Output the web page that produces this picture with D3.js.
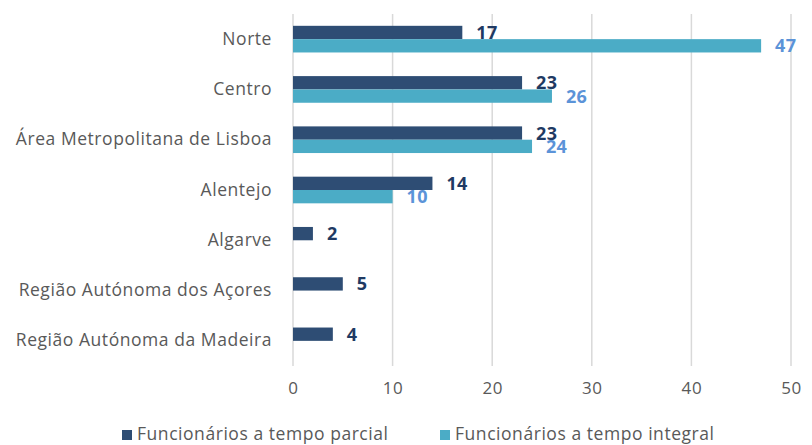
<!DOCTYPE html>
<html>
<head>
<meta charset="utf-8">
<script src="https://cdn.jsdelivr.net/npm/d3@7"></script>
<style>
  body { margin: 0; background: #fff; }
  text { font-family: "Open Sans", sans-serif; }
</style>
</head>
<body>
<div id="graph_container"></div>
<script>
var regions = ["Norte", "Centro", "Área Metropolitana de Lisboa", "Alentejo", "Algarve",
               "Região Autónoma dos Açores", "Região Autónoma da Madeira"];
var parcial = [17, 23, 23, 14, 2, 5, 4];
var integral = [47, 26, 24, 10, null, null, null];
var seriesNames = ["Funcionários a tempo parcial", "Funcionários a tempo integral"];
var xTicks = [0, 10, 20, 30, 40, 50];

var colors = ["#2E4D74", "#4BACC6"];
var labelColors = ["#1F3A63", "#5B93D8"];

var W = 812, H = 445;
var margin = {top: 14, right: 21, bottom: 79, left: 293},
    w = W - margin.left - margin.right,
    h = H - margin.top - margin.bottom;

var svg = d3.select("#graph_container").append("svg")
    .attr("width", W)
    .attr("height", H);

var g = svg.append("g")
    .attr("transform", "translate(" + margin.left + "," + margin.top + ")");

var xScale = d3.scaleLinear().domain([0, 50]).range([0, w]);
var yScale = d3.scaleBand().domain(regions).range([0, h]).paddingInner(0.47).paddingOuter(0.235);
var sub = d3.scaleBand().domain([0, 1]).range([0, yScale.bandwidth()]);

// gridlines
g.selectAll("line.grid")
    .data(xTicks)
    .enter().append("line")
    .attr("class", "grid")
    .attr("x1", function(d) { return xScale(d); })
    .attr("x2", function(d) { return xScale(d); })
    .attr("y1", 0)
    .attr("y2", h)
    .attr("stroke", "#D9D9D9")
    .attr("stroke-width", 1.5);

// x axis tick labels
var xAxis = g.append("g")
    .attr("transform", "translate(0," + h + ")")
    .call(d3.axisBottom(xScale).tickValues(xTicks).tickSize(0).tickPadding(16));
xAxis.select(".domain").remove();
xAxis.selectAll("text")
    .attr("fill", "#595959")
    .style("font-size", "17px")
    .style("letter-spacing", "0.6px")
    .style("font-family", "'Open Sans', sans-serif");

// y axis category labels
var yAxis = g.append("g")
    .call(d3.axisLeft(yScale).tickSize(0).tickPadding(21));
yAxis.select(".domain").remove();
yAxis.selectAll("text")
    .attr("fill", "#595959")
    .style("font-size", "17.5px")
    .style("letter-spacing", "0.55px")
    .style("font-family", "'Open Sans', sans-serif");

var series = [parcial, integral];

series.forEach(function(vals, si) {
    var data = regions.map(function(r, i) { return {region: r, value: vals[i]}; })
        .filter(function(d) { return d.value != null; });

    g.selectAll("rect.s" + si)
        .data(data)
        .enter().append("rect")
        .attr("class", "s" + si)
        .attr("x", xScale(0))
        .attr("y", function(d) { return yScale(d.region) + sub(si); })
        .attr("width", function(d) { return xScale(d.value) - xScale(0); })
        .attr("height", sub.bandwidth())
        .attr("fill", colors[si]);

    g.selectAll("text.l" + si)
        .data(data)
        .enter().append("text")
        .attr("class", "l" + si)
        .attr("x", function(d) { return xScale(d.value) + 14; })
        .attr("y", function(d) { return yScale(d.region) + sub(si) + sub.bandwidth() / 2; })
        .attr("dy", "0.36em")
        .attr("fill", labelColors[si])
        .style("font-size", "18px")
        .style("font-weight", "bold")
        .style("letter-spacing", "0.3px")
        .text(function(d) { return d.value; });
});

// legend
var legendX = [122, 440];
var legend = svg.selectAll("g.legend")
    .data(seriesNames)
    .enter().append("g")
    .attr("class", "legend")
    .attr("transform", function(d, i) { return "translate(" + legendX[i] + ",434)"; });

legend.append("rect")
    .attr("x", 0)
    .attr("y", -4)
    .attr("width", 10)
    .attr("height", 10)
    .attr("fill", function(d, i) { return colors[i]; });

legend.append("text")
    .attr("x", 15)
    .attr("y", 0)
    .attr("dy", "0.36em")
    .attr("fill", "#595959")
    .style("font-size", "17.5px")
    .style("letter-spacing", "0.55px")
    .text(function(d) { return d; });
</script>
</body>
</html>
